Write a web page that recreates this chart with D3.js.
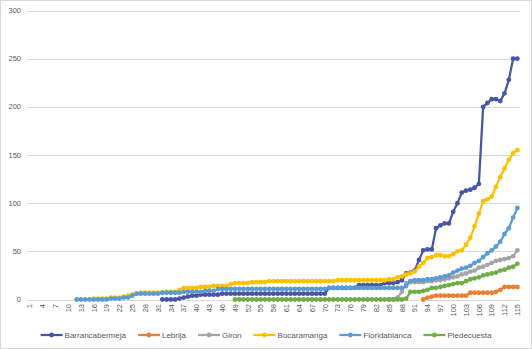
<!DOCTYPE html>
<html>
<head>
<meta charset="utf-8">
<script src="https://cdn.jsdelivr.net/npm/d3@7/dist/d3.min.js"></script>
<style>
  html, body { margin: 0; padding: 0; background: #fff; }
  svg { display: block; font-family: 'Liberation Sans', Arial, sans-serif; }
</style>
</head>
<body>
<div id="chart"></div>
<script>
// categories 1..115
const days = d3.range(1, 116)
const xTicks = days.filter((d, i) => i % 3 === 0)
const yTicks = [0, 50, 100, 150, 200, 250, 300]

// each series starts at a given category
const barrancaStart = 32
const barranca = [
  0, 0, 0, 0, 1, 2, 3, 4, 4, 5, 5, 5, 5, 5, 6, 6, 6,
  6, 6, 6, 6, 6, 6, 6, 6, 6, 6, 6, 6, 6, 6, 6, 6, 6, 6, 6, 6, 6, 6,
  12, 12, 12, 12, 12, 12, 12, 15, 15, 15, 15, 15, 15, 17, 17, 17,
  18, 20, 27, 28, 30, 41, 51, 52, 52, 74, 77, 79, 79, 91, 100, 111, 113, 114,
  116, 120, 200, 204, 208, 208, 206, 214, 228, 250, 250
]

const lebrijaStart = 93
const lebrija = [
  0, 2, 3, 4, 4, 4, 4, 4, 4, 4, 4, 7, 7, 7, 7, 7, 7, 8, 10, 13, 13, 13, 13
]

const gironStart = 85
const giron = [
  0, 0, 2, 8, 17, 18, 18, 18, 18, 19, 19, 20, 20, 21, 22, 23, 24, 26, 27,
  29, 30, 33, 34, 36, 38, 40, 41, 42, 43, 45, 51
]

const bucaStart = 16
const buca = [
  1, 1, 1, 1, 2, 2, 2, 3, 4, 5, 6, 7, 7, 7, 7, 7, 7, 8, 8, 8, 10,
  12, 12, 12, 12, 13, 13, 13, 14, 14, 14, 14, 16, 17, 17, 17, 17,
  18, 18, 18, 18, 19, 19, 19, 19, 19, 19, 19, 19, 19, 19, 19, 19, 19, 19, 19, 19,
  20, 20, 20, 20, 20, 20, 20, 20, 20, 20, 20, 20,
  21, 21, 23, 24, 26, 27, 29, 34, 38, 43, 44, 46, 46, 45, 45, 47, 50, 51, 57,
  64, 76, 89, 102, 104, 107, 117, 127, 136, 145, 152, 155
]

const floridaStart = 12
const florida = [
  0, 0, 0, 0, 0, 0, 0, 0, 1, 1, 1, 2, 2, 4, 6, 6, 6, 6, 6, 6,
  7, 7, 7, 7, 7, 8, 8, 8, 8, 8, 9, 9, 9,
  11, 11, 11, 11, 11, 11, 11, 11, 11, 11, 11, 11, 11, 11, 11, 11, 11, 11, 11, 11,
  11, 11, 11, 11, 11, 11,
  12, 12, 12, 12, 12, 12, 12, 12, 12, 12, 12, 12, 12, 12, 12, 12, 12, 12,
  14, 19, 20, 20, 20, 21, 21, 22, 23, 24, 25, 28, 30, 32, 33, 35, 38, 40,
  44, 48, 51, 55, 60, 68, 74, 85, 95
]

const piedeStart = 49
const piede = [
  0, 0, 0, 0, 0, 0, 0, 0, 0, 0, 0, 0, 0, 0, 0, 0, 0, 0, 0, 0,
  0, 0, 0, 0, 0, 0, 0, 0, 0, 0, 0, 0, 0, 0, 0, 0, 0, 0, 0, 0,
  1, 8, 8, 8, 9, 10, 12, 12, 13, 14, 15, 16, 17, 17, 19, 21, 22, 23, 25,
  26, 27, 28, 30, 31, 33, 34, 37
]

const seriesNames = ['Barrancabermeja', 'Lebrija', 'Giron', 'Bucaramanga', 'Floridablanca', 'Piedecuesta']
const seriesColors = ['#4656A3', '#ED7D31', '#A5A5A5', '#FFC000', '#5B9BD5', '#70AD47']

const series = [
  [barrancaStart, barranca], [lebrijaStart, lebrija], [gironStart, giron],
  [bucaStart, buca], [floridaStart, florida], [piedeStart, piede]
].map(([start, vals], k) => ({
  name: seriesNames[k],
  color: seriesColors[k],
  points: vals.map((v, i) => ({ day: start + i, value: v }))
}))

const fullWidth = 532,
  fullHeight = 349

const x = d3.scalePoint()
  .domain(days)
  .range([27.5, 519.5])
  .padding(0.5)

const y = d3.scaleLinear()
  .domain([0, 300])
  .range([299.5, 10.5])

const svg = d3.select('#chart')
  .append('svg')
  .attr('width', fullWidth)
  .attr('height', fullHeight)

svg.append('rect')
  .attr('x', 0.5).attr('y', 0.5)
  .attr('width', fullWidth - 1).attr('height', fullHeight - 1)
  .attr('fill', '#fff')
  .attr('stroke', '#D9D9D9')

// grid + y labels
svg.append('g')
  .selectAll('line')
  .data(yTicks)
  .enter()
  .append('line')
    .attr('x1', 27.5).attr('x2', 519.5)
    .attr('y1', d => Math.round(y(d)) + 0.5)
    .attr('y2', d => Math.round(y(d)) + 0.5)
    .attr('stroke', '#D9D9D9')
    .attr('stroke-width', 1)

svg.append('g')
  .selectAll('text')
  .data(yTicks)
  .enter()
  .append('text')
    .attr('x', 21)
    .attr('y', d => y(d))
    .attr('dy', '0.35em')
    .attr('text-anchor', 'end')
    .attr('font-size', 7.5)
    .attr('fill', '#595959')
    .text(d => d)

// x labels, rotated
svg.append('g')
  .selectAll('text')
  .data(xTicks)
  .enter()
  .append('text')
    .attr('transform', d => `translate(${x(d) + 2.7}, 304) rotate(-90)`)
    .attr('text-anchor', 'end')
    .attr('font-size', 7.5)
    .attr('fill', '#595959')
    .text(d => d)

const line = d3.line()
  .x(d => x(d.day))
  .y(d => y(d.value))

const plot = svg.append('g')

series.forEach(s => {
  const g = plot.append('g')
  g.append('path')
    .attr('d', line(s.points))
    .attr('fill', 'none')
    .attr('stroke', s.color)
    .attr('stroke-width', 2.25)
    .attr('stroke-linejoin', 'round')

  g.selectAll('circle')
    .data(s.points)
    .enter()
    .append('circle')
      .attr('cx', d => x(d.day))
      .attr('cy', d => y(d.value))
      .attr('r', 2.4)
      .attr('fill', s.color)
})

// legend
const legend = svg.append('g')
const items = legend.selectAll('g')
  .data(series)
  .enter()
  .append('g')

items.append('line')
  .attr('x1', 0).attr('x2', 22)
  .attr('y1', 0).attr('y2', 0)
  .attr('stroke', d => d.color)
  .attr('stroke-width', 2.25)

items.append('circle')
  .attr('cx', 11).attr('cy', 0).attr('r', 2.4)
  .attr('fill', d => d.color)

items.append('text')
  .attr('x', 24)
  .attr('dy', '0.35em')
  .attr('font-size', 8)
  .attr('fill', '#595959')
  .text(d => d.name)

let offset = 0
const widths = []
items.each(function () {
  const w = 24 + d3.select(this).select('text').node().getComputedTextLength()
  widths.push(offset)
  offset += w + 12
})
const total = offset - 12
const startX = (fullWidth - total) / 2
items.attr('transform', (d, i) => `translate(${startX + widths[i]}, 335)`)
</script>
</body>
</html>
